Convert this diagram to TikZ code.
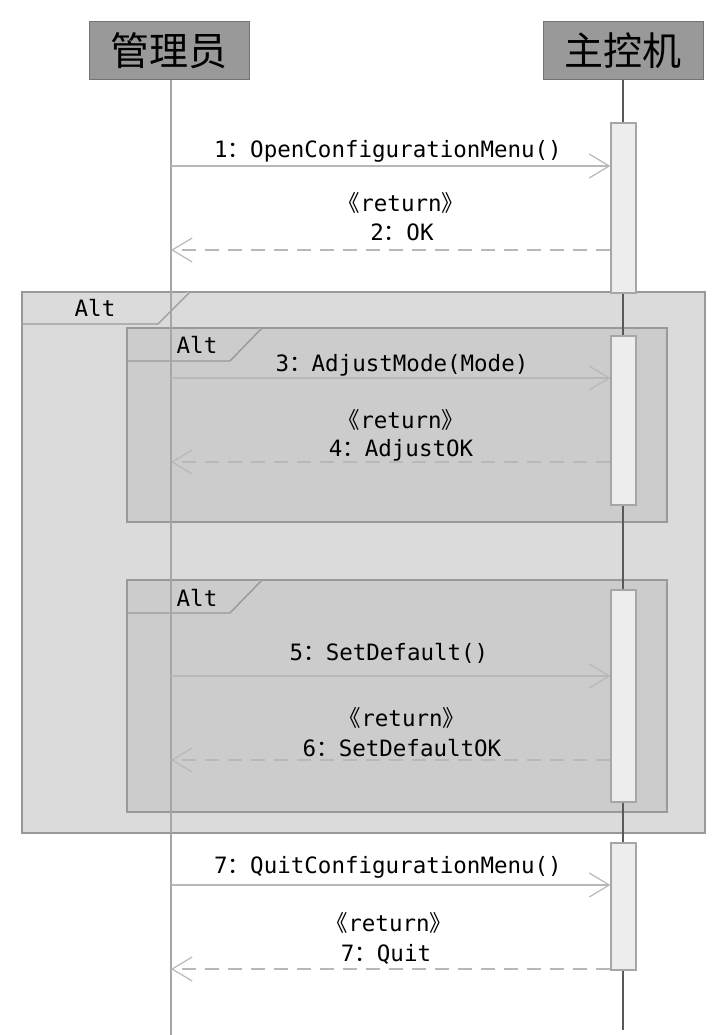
\documentclass[tikz,border=0pt]{standalone}
\usepackage{fontspec}
\setmonofont{DejaVu Sans Mono}
\newfontfamily\cjk{Noto Sans CJK SC}
\usetikzlibrary{arrows.meta}
\newcommand{\cc}{{\cjk ：}}
\newcommand{\rt}{{\cjk 《}return{\cjk 》}}
\begin{document}
\begin{tikzpicture}[x=1pt,y=-1pt,
  head/.style={draw=black!55,fill=black!40,line width=1pt,minimum width=160pt,minimum height=58pt,inner sep=0pt,font=\cjk\fontsize{39}{41}\selectfont},
  act/.style={draw=black!35,fill=black!7,line width=1.2pt,minimum width=25pt,inner sep=0pt},
  msg/.style={draw=black!28,line width=1.2pt,-{Straight Barb[length=20pt,width=24pt,line width=1.2pt]}},
  ret/.style={msg,dash pattern=on 14pt off 9pt},
  lbl/.style={font=\ttfamily\fontsize{22.5}{25}\selectfont,inner sep=0pt},
  frameA/.style={draw=black!40,line width=1.4pt,fill=black!14},
  frameB/.style={draw=black!40,line width=1.4pt,fill=black!20},
]
\useasboundingbox (0,0) rectangle (726,1035);
% frames
\draw[frameA] (22,292) rectangle (705,833);
\draw[frameA] (22,324) -- (158,324) -- (190,292);
\node[lbl] (altO) at (95,308) {Alt};
\draw[frameB] (127,328) rectangle (667,522);
\draw[frameB] (127,361) -- (230,361) -- (262,328);
\node[lbl] (alt1) at (197,345) {Alt};
\draw[frameB] (127,580) rectangle (667,812);
\draw[frameB] (127,613) -- (230,613) -- (262,580);
\node[lbl] (alt2) at (197,598) {Alt};
% headers
\node[head] (adm) at (169,51) {管理员};
\node[head] (host) at (623,51) {主控机};
% lifelines
\coordinate (admEnd) at (171,1035);
\coordinate (hostEnd) at (623,1030);
\draw[black!35,line width=1.2pt] (adm.south -| admEnd) -- (admEnd);
\draw[black!65,line width=1.2pt] (host.south) -- (hostEnd);
% activations
\node[act,minimum height=170pt] (act1) at (623.5,208) {};
\node[act,minimum height=169pt] (act2) at (623.5,420.5) {};
\node[act,minimum height=212pt] (act3) at (623.5,696) {};
\node[act,minimum height=127pt] (act4) at (623.5,906.5) {};
% messages
\coordinate (m1) at (171,166);
\coordinate (m2) at (171,250);
\coordinate (m3) at (171,378);
\coordinate (m4) at (171,462);
\coordinate (m5) at (171,676);
\coordinate (m6) at (171,760);
\coordinate (m7) at (171,885);
\coordinate (m8) at (171,969);
\draw[msg] (m1) -- (act1.west |- m1);
\draw[ret] (act1.west |- m2) -- (m2);
\draw[msg] (m3) -- (act2.west |- m3);
\draw[ret] (act2.west |- m4) -- (m4);
\draw[msg] (m5) -- (act3.west |- m5);
\draw[ret] (act3.west |- m6) -- (m6);
\draw[msg] (m7) -- (act4.west |- m7);
\draw[ret] (act4.west |- m8) -- (m8);
% labels
\node[lbl] (l1) at (388,151) {1\cc OpenConfigurationMenu()};
\node[lbl] (l2a) at (401,203) {\rt};
\node[lbl] (l2b) at (402,232) {2\cc OK};
\node[lbl] (l3) at (402,365) {3\cc AdjustMode(Mode)};
\node[lbl] (l4a) at (401,420) {\rt};
\node[lbl] (l4b) at (401,450) {4\cc AdjustOK};
\node[lbl] (l5) at (389,653) {5\cc SetDefault()};
\node[lbl] (l6a) at (402,718) {\rt};
\node[lbl] (l6b) at (402,748) {6\cc SetDefaultOK};
\node[lbl] (l7) at (388,867) {7\cc QuitConfigurationMenu()};
\node[lbl] (l8a) at (389,923) {\rt};
\node[lbl] (l8b) at (386,954) {7\cc Quit};
\end{tikzpicture}
\end{document}
